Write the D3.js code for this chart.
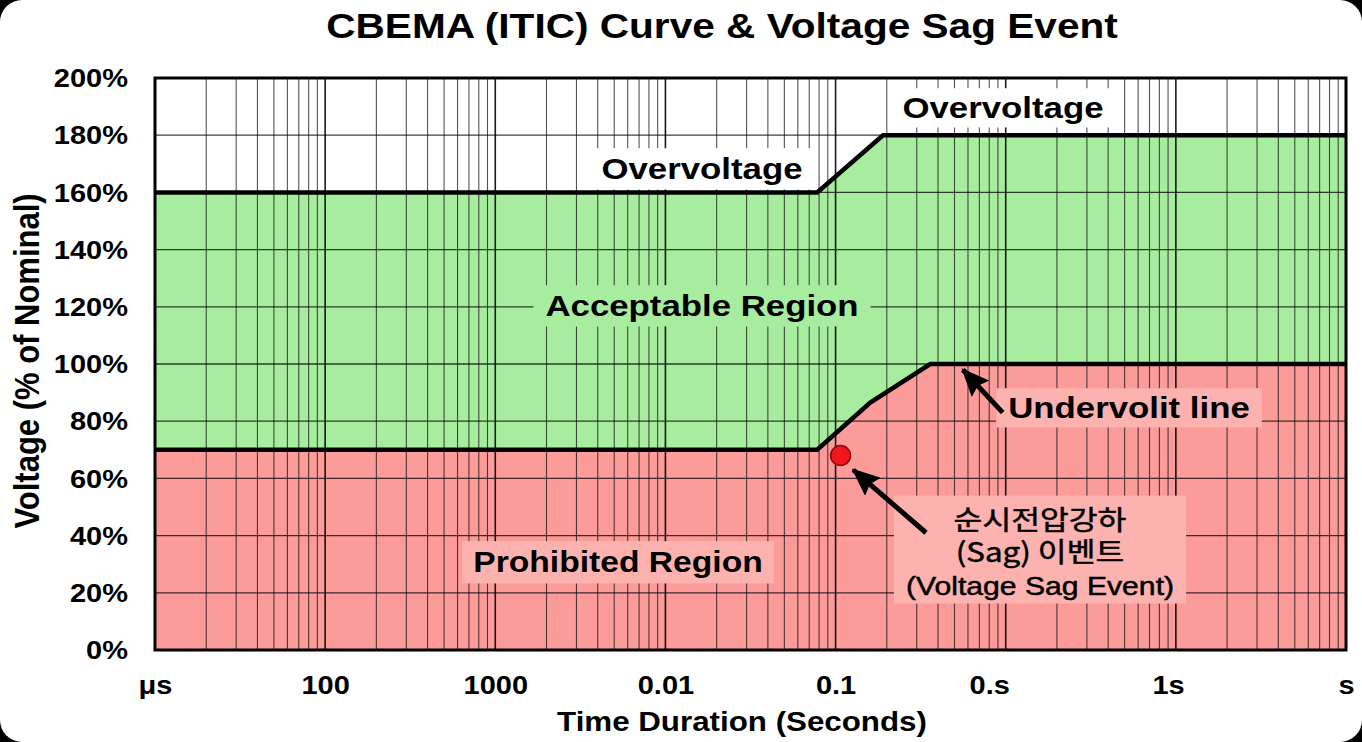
<!DOCTYPE html>
<html>
<head>
<meta charset="utf-8">
<script src="https://cdn.jsdelivr.net/npm/d3@7"></script>
<style>
  html, body { margin: 0; padding: 0; background: #000; }
  svg { display: block; }
  text { font-family: "Liberation Sans", Arial, sans-serif; fill: #000; }
</style>
</head>
<body>
<svg id="chart" width="1362" height="742"></svg>
<script>
// chart values (time axis is a plain log scale, one decade per label)
var yTicks = [0, 20, 40, 60, 80, 100, 120, 140, 160, 180, 200];
var xTickValues = [1, 1e1, 1e2, 1e3, 1e4, 8e4, 9e5, 1e7];
var xTickLabels = ["μs", "100", "1000", "0.01", "0.1", "0.s", "1s", "s"];

// overvoltage limit: [time, % nominal]
var overLine = [[1, 160], [7.8e3, 160], [1.9e4, 180], [1e7, 180]];
// undervoltage limit
var underLine = [[1, 70], [7.8e3, 70], [1.6e4, 86.5], [3.6e4, 100], [1e7, 100]];
// the sag event
var sagEvent = [[1.07e4, 68]];
// arrows: [from, to]
var arrows = [
  [[9.6e4, 83], [5.6e4, 98]],
  [[3.4e4, 41], [1.27e4, 63]]
];

var STRETCH = 1.16;
var svg = d3.select("#chart");
var W = 1362, H = 742;
var pLeft = 155, pRight = 1346, pTop = 78, pBottom = 650;

var x = d3.scaleLog().domain([1, 1e7]).range([pLeft, pRight]);
var y = d3.scaleLinear().domain([0, 200]).range([pBottom, pTop]);

svg.append("rect").attr("width", W).attr("height", H)
  .attr("rx", 22).attr("ry", 22).attr("fill", "#fff");

var plot = svg.append("g");

var area = d3.area()
  .x(function(d){ return x(d[0]); })
  .y0(y(0))
  .y1(function(d){ return y(d[1]); });

plot.append("path").datum(overLine).attr("d", area).attr("fill", "#a8ed9f");
plot.append("path").datum(underLine).attr("d", area).attr("fill", "#fb9c9b");

function isDecade(d){ return Math.abs(Math.log10(d) % 1) < 1e-6; }

// grid
var grid = plot.append("g");
grid.selectAll("line.v").data(x.ticks()).enter().append("line")
  .attr("x1", function(d){ return x(d); }).attr("x2", function(d){ return x(d); })
  .attr("y1", pTop).attr("y2", pBottom)
  .attr("stroke", "#000")
  .attr("stroke-opacity", function(d){ return isDecade(d) ? 0.9 : 0.68; })
  .attr("stroke-width", function(d){ return isDecade(d) ? 1.6 : 1.1; });
grid.selectAll("line.h").data(yTicks).enter().append("line")
  .attr("x1", pLeft).attr("x2", pRight)
  .attr("y1", function(d){ return y(d); }).attr("y2", function(d){ return y(d); })
  .attr("stroke", "#000").attr("stroke-opacity", 0.75).attr("stroke-width", 1.3);

// label with box behind, text stretched horizontally like the source
function label(cx, baseline, lines, opts){
  var g = svg.append("g")
    .attr("transform", "translate(" + cx + "," + baseline + ") scale(" + STRETCH + ",1)");
  var box = g.append("rect").attr("fill", opts.box);
  var t = g.append("text")
    .attr("text-anchor", "middle")
    .style("font-size", opts.size + "px")
    .style("font-weight", opts.weight || "bold");
  if (opts.heavy) t.attr("stroke", "#000").attr("stroke-width", opts.heavy);
  lines.forEach(function(s, i){
    var cjk = /[가-힣]/.test(s);
    t.append("tspan").attr("x", 0).attr("y", i * opts.lead).text(s)
      .style("font-family", cjk ? "'Noto Sans CJK KR', sans-serif" : null)
      .style("font-size", cjk && opts.cjkSize ? opts.cjkSize + "px" : null);
  });
  if (opts.box) {
    var b = t.node().getBBox();
    var px = (opts.padX || 10) / STRETCH, py = opts.padY || 5;
    box.attr("x", b.x - px).attr("y", b.y - py)
      .attr("width", b.width + 2 * px).attr("height", b.height + 2 * py);
  } else box.remove();
  return g;
}

label(1003, 118, ["Overvoltage"], {size: 30, box: "#fff", padX: 10, padY: 3});
label(702, 179, ["Overvoltage"], {size: 30, box: "#fff", padX: 10, padY: 4});
label(702, 316, ["Acceptable Region"], {size: 30, box: "#a8ed9f", padX: 12, padY: 4});
label(1129, 418, ["Undervolit line"], {size: 30, box: "#fcb3b0", padX: 12, padY: 3});
label(1040, 530, ["순시전압강하", "(Sag) 이벤트", "(Voltage Sag Event)"],
  {size: 26, cjkSize: 27, weight: "normal", heavy: 0.5, lead: 32.5, box: "#fcb3b0", padX: 12, padY: 3});
label(618, 572, ["Prohibited Region"], {size: 29, box: "#fcb3b0", padX: 11, padY: 5});

// limit curves
var line = d3.line().x(function(d){ return x(d[0]); }).y(function(d){ return y(d[1]); });
svg.append("path").datum(overLine).attr("d", line)
  .attr("fill", "none").attr("stroke", "#000").attr("stroke-width", 4.5);
svg.append("path").datum(underLine).attr("d", line)
  .attr("fill", "none").attr("stroke", "#000").attr("stroke-width", 4.5);

// border
svg.append("rect").attr("x", pLeft).attr("y", pTop)
  .attr("width", pRight - pLeft).attr("height", pBottom - pTop)
  .attr("fill", "none").attr("stroke", "#000").attr("stroke-width", 3);

// arrows
svg.append("defs").append("marker")
  .attr("id", "head").attr("markerUnits", "userSpaceOnUse")
  .attr("viewBox", "0 0 28 24").attr("refX", 26).attr("refY", 12)
  .attr("markerWidth", 28).attr("markerHeight", 24).attr("orient", "auto")
  .append("path").attr("d", "M0,0 L28,12 L0,24 L4,12 Z").attr("fill", "#000");
svg.selectAll("line.arrow").data(arrows).enter().append("line")
  .attr("x1", function(d){ return x(d[0][0]); }).attr("y1", function(d){ return y(d[0][1]); })
  .attr("x2", function(d){ return x(d[1][0]); }).attr("y2", function(d){ return y(d[1][1]); })
  .attr("stroke", "#000").attr("stroke-width", 5).attr("marker-end", "url(#head)");

// sag event point
svg.selectAll("circle.sag").data(sagEvent).enter().append("circle")
  .attr("cx", function(d){ return x(d[0]); }).attr("cy", function(d){ return y(d[1]); })
  .attr("r", 10).attr("fill", "#f0161a").attr("stroke", "#8a0a0a").attr("stroke-width", 1.5);

// axes
var yAxis = svg.append("g").attr("transform", "translate(128,0)")
  .call(d3.axisLeft(y).tickValues(yTicks).tickFormat(function(d){ return d + "%"; })
    .tickSize(0).tickPadding(0));
yAxis.select(".domain").remove();
yAxis.selectAll("text").attr("x", 0).attr("dy", "0.35em")
  .attr("transform", "scale(" + STRETCH + ",1)")
  .style("font-size", "25px").style("font-weight", "bold").style("font-family", null);

var xAxis = svg.append("g").attr("transform", "translate(0,685)")
  .call(d3.axisBottom(x).tickValues(xTickValues)
    .tickFormat(function(d, i){ return xTickLabels[i]; }).tickSize(0).tickPadding(0));
xAxis.select(".domain").remove();
xAxis.selectAll("text").attr("y", 0).attr("dy", "0.35em")
  .attr("transform", "scale(" + STRETCH + ",1)")
  .style("font-size", "25px").style("font-weight", "bold").style("font-family", null);

// titles
svg.append("text").attr("text-anchor", "middle")
  .attr("transform", "translate(722,38) scale(" + STRETCH + ",1)")
  .style("font-size", "35px").style("font-weight", "bold")
  .text("CBEMA (ITIC) Curve & Voltage Sag Event");
svg.append("text").attr("text-anchor", "middle")
  .attr("transform", "translate(742,731) scale(" + STRETCH + ",1)")
  .style("font-size", "27px").style("font-weight", "bold")
  .text("Time Duration (Seconds)");
svg.append("text").attr("text-anchor", "middle")
  .attr("transform", "translate(39,361) scale(" + STRETCH + ",1) rotate(-90)")
  .style("font-size", "31px").style("font-weight", "bold")
  .text("Voltage (% of Nominal)");
</script>
</body>
</html>
